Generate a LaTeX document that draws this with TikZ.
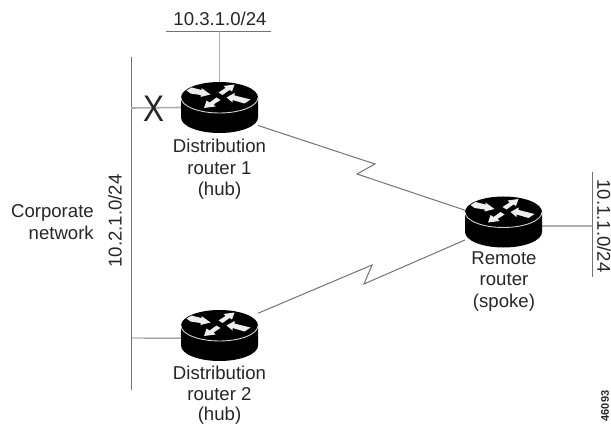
\documentclass[tikz,border=0pt]{standalone}
\usepackage{fontspec}
\setmainfont{Liberation Sans}
\usetikzlibrary{calc}
\definecolor{ink}{gray}{0.15}
\definecolor{busgray}{gray}{0.45}
\definecolor{stemgray}{gray}{0.68}
\definecolor{rim}{gray}{0.82}
\tikzset{
  x=1pt,y=-1pt,
  routerbox/.style={minimum width=77pt,minimum height=51pt,inner sep=0pt,outer sep=0pt},
  lbl/.style={font=\fontsize{18.6}{21.5}\selectfont,text=ink,inner sep=0pt,align=center},
  bus/.style={draw=busgray,line width=0.9pt},
  stem/.style={draw=stemgray,line width=1.6pt},
  serial/.style={draw=busgray,line width=1pt,line join=miter},
  arrowfill/.style={fill=white!93!black},
  pics/routericon/.style={code={
    \fill[black] (-38.5,-10) -- (-38.5,10) arc[start angle=180,end angle=360,x radius=38.5,y radius=-15.5] -- (38.5,-10)
      arc[start angle=0,end angle=180,x radius=38.5,y radius=-15.5] -- cycle;
    \draw[rim,line width=0.9pt] (-38.5,-10) arc[start angle=180,end angle=360,x radius=38.5,y radius=-15.5];
    \path[arrowfill] (-33,-17) -- (-28,-20) -- (-18,-17.5) -- (-18,-19.5) -- (-9,-13) -- (-19,-10.5) -- (-19,-12.5) -- (-29,-14) -- cycle;
    \path[arrowfill] (7,-10) -- (15,-14.5) -- (15,-12) -- (31,-8) -- (25,-4) -- (13,-7.5) -- (13,-5) -- cycle;
    \path[arrowfill] (15,-23) -- (12.5,-16) -- (10,-17.5) -- (3,-12.5) -- (-1,-15) -- (6,-19.5) -- (4,-21.5) -- cycle;
    \path[arrowfill] (-15.5,0.5) -- (-13,-7) -- (-10,-5) -- (-3,-10) -- (1,-7.5) -- (-6,-3) -- (-4,-1) -- cycle;
  }}
}
\begin{document}
\begin{tikzpicture}
\useasboundingbox (0,0) rectangle (611,425);
% router anchors
\node[routerbox] (r1) at (219.5,107.5) {};
\node[routerbox] (r2) at (219.5,335.5) {};
\node[routerbox] (r3) at (503.5,222) {};
% bus end points
\coordinate (topL) at (166,31);
\coordinate (topR) at (271,31);
\coordinate (topJ) at (219.5,31);
\coordinate (leftT) at (131,57);
\coordinate (leftB) at (131,390);
\coordinate (leftA) at (131,108);
\coordinate (leftC) at (131,338);
\coordinate (rightT) at (592,172);
\coordinate (rightB) at (592,277);
\coordinate (rightJ) at (592,226);
\coordinate (z1) at (375,164);
\coordinate (z2) at (357,174);
\coordinate (z3) at (372,265);
\coordinate (z4) at (364,284);
% connectors
\draw[bus] (topL) -- (topR);
\draw[stem] (topJ) -- (r1.north);
\draw[bus] (leftT) -- (leftB);
\draw[stem] (leftA) -- (r1.west);
\draw[bus] (leftC) -- (r2.184);
\draw[bus] (rightT) -- (rightB);
\draw[stem] (rightJ) -- (r3.-6);
\draw[serial] (r1.-25) -- (z1) -- (z2) -- (r3.163);
\draw[serial] (r2.30) -- (z3) -- (z4) -- (r3.205);
% routers
\pic at (r1.center) {routericon};
\pic at (r2.center) {routericon};
\pic at (r3.center) {routericon};
% labels
\node[lbl] (t1) at (220,19) {10.3.1.0/24};
\node[lbl,rotate=90] (t2) at (115,221) {10.2.1.0/24};
\node[lbl,rotate=-90] (t3) at (604,226) {10.1.1.0/24};
\node[lbl,align=right,anchor=east] (t4) at (94,222) {Corporate\\network};
\node[lbl,anchor=north] (t5) at (219.5,139) {Distribution\\router 1\\(hub)};
\node[lbl,anchor=north,font=\fontsize{18.6}{20.5}\selectfont] (t6) at (219.5,366) {Distribution\\router 2\\(hub)};
\node[lbl,anchor=north] (t7) at (504,251.5) {Remote\\router\\(spoke)};
\node[font=\fontsize{37}{37}\selectfont,text=ink,inner sep=0pt,xscale=0.85,transform shape] (x) at (153.5,108.5) {X};
\node[font=\fontsize{11}{11}\selectfont\bfseries,text=ink,inner sep=0pt,rotate=90] (fig) at (605,406) {46093};
\end{tikzpicture}
\end{document}
